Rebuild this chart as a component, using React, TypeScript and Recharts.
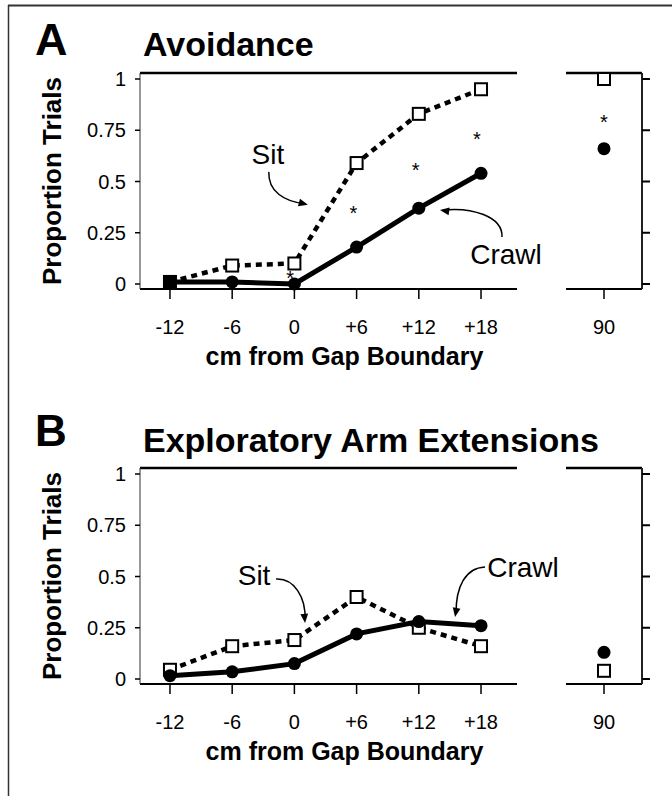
import React from 'react'
import { ComposedChart, Line, Scatter, XAxis, YAxis, ReferenceDot, Label } from 'recharts'

const font = '"Liberation Sans", Arial, Helvetica, sans-serif'

// cm from gap boundary
const offsets = [-12, -6, 0, 6, 12, 18]
const offsetLabels = ['-12', '-6', '0', '+6', '+12', '+18']
const farOffset = [90]
const yTicks = [0, 0.25, 0.5, 0.75, 1]

// A - avoidance
const avoidSit = [0.01, 0.09, 0.1, 0.59, 0.83, 0.95]
const avoidCrawl = [0.01, 0.01, 0, 0.18, 0.37, 0.54]
const avoidFarSit = [1]
const avoidFarCrawl = [0.66]
const avoidStarX = [-0.4, 5.7, 11.7, 17.6]
const avoidStarY = [0.05, 0.37, 0.58, 0.73]
const avoidFarStarY = [0.81]

// B - exploratory arm extensions
const armSit = [0.045, 0.16, 0.19, 0.4, 0.25, 0.16]
const armCrawl = [0.016, 0.035, 0.075, 0.22, 0.28, 0.26]
const armFarSit = [0.04]
const armFarCrawl = [0.13]

const X_DOMAIN: [number, number] = [-14.89, 21.47]
const FAR_DOMAIN: [number, number] = [86, 94]
const Y_DOMAIN: [number, number] = [-0.0244, 1.0293]

// annotation labels: anchor in data units, arrow drawn in px relative to the label centre
const avoidNotes = [
  { text: 'Sit', x: -2.56, y: 0.63, path: 'M1,17 C0,36 16,47 38,49', tip: [40, 50], angle: 15 },
  { text: 'Crawl', x: 20.41, y: 0.146, path: 'M-4,-17 C-3,-38 -35,-47 -63,-44', tip: [-66, -44], angle: 188 },
]
const armNotes = [
  { text: 'Sit', x: -3.89, y: 0.507, path: 'M22,4 C40,3 52,22 51,45', tip: [51, 48], angle: 85 },
  { text: 'Crawl', x: 22.05, y: 0.546, path: 'M-38,0 C-58,1 -67,20 -67,46', tip: [-68, 50], angle: 100 },
]

const tickStyle = { fill: '#000', fontSize: 20 }

function Note({ cx, cy, note }: any) {
  if (cx == null || cy == null) return null
  const [tx, ty] = note.tip
  const a = (note.angle * Math.PI) / 180
  const len = 10
  const w = 0.4
  const p1 = [tx - len * Math.cos(a - w), ty - len * Math.sin(a - w)]
  const p2 = [tx - len * Math.cos(a + w), ty - len * Math.sin(a + w)]
  return (
    <g transform={`translate(${cx},${cy})`}>
      <text x={0} y={0} textAnchor='middle' dominantBaseline='central' fontSize={28} fill='#000'>
        {note.text}
      </text>
      <path d={note.path} fill='none' stroke='#000' strokeWidth={1.5} />
      <polygon points={`${tx},${ty} ${p1[0]},${p1[1]} ${p2[0]},${p2[1]}`} fill='#000' />
    </g>
  )
}

const renderStar = (p: any) => (
  <text x={p.cx} y={p.cy + 11.5} textAnchor='middle' fontSize={20} fill='#000'>
    *
  </text>
)

const renderSquare = (p: any) => {
  if (p.cx == null || p.cy == null) return <g key={`sq-${p.index}`} />
  const solid = Math.abs(p.payload.sit - p.payload.crawl) < 0.02
  return (
    <rect
      key={`sq-${p.index}`}
      x={p.cx - 6}
      y={p.cy - 6}
      width={12}
      height={12}
      fill={solid ? '#000' : '#fff'}
      stroke='#000'
      strokeWidth={2}
    />
  )
}

const renderCircle = (p: any) => {
  if (p.cx == null || p.cy == null) return <g key={`ci-${p.index}`} />
  return <circle key={`ci-${p.index}`} cx={p.cx} cy={p.cy} r={6.5} fill='#000' />
}

function Panel({ top, sit, crawl, farSit, farCrawl, starX, starY, farStarY, notes }: any) {
  const rows = offsets.map((x, i) => ({ x, sit: sit[i], crawl: crawl[i] }))
  const farRows = farOffset.map((x, i) => ({ x, sit: farSit[i], crawl: farCrawl[i] }))
  const stars = starX.map((x: number, i: number) => ({ x, y: starY[i] }))
  const farStars = farStarY.map((y: number) => ({ x: farOffset[0], y }))

  return (
    <>
      <div style={{ position: 'absolute', left: 0, top }}>
        <ComposedChart
          width={580}
          height={380}
          data={rows}
          margin={{ top: 72, right: 63, bottom: 11, left: 0 }}
          style={{ overflow: 'visible' }}
        >
          <XAxis
            xAxisId='top'
            orientation='top'
            dataKey='x'
            type='number'
            domain={X_DOMAIN}
            height={1}
            tick={false}
            tickLine={false}
            axisLine={{ stroke: '#000', strokeWidth: 2.5 }}
          />
          <XAxis
            dataKey='x'
            type='number'
            domain={X_DOMAIN}
            ticks={offsets}
            tickFormatter={(v: number) => offsetLabels[offsets.indexOf(v)]}
            height={80}
            tickSize={10}
            tickMargin={21}
            tick={tickStyle}
            axisLine={{ stroke: '#000', strokeWidth: 2 }}
            tickLine={{ stroke: '#000', strokeWidth: 1.5 }}
          >
            <Label
              content={(props: any) => {
                const vb = props.viewBox
                return (
                  <text
                    x={vb.x + vb.width / 2 + 16}
                    y={vb.y + 76}
                    textAnchor='middle'
                    fontSize={25}
                    fontWeight={700}
                    fill='#000'
                  >
                    cm from Gap Boundary
                  </text>
                )
              }}
            />
          </XAxis>
          <YAxis
            type='number'
            domain={Y_DOMAIN}
            ticks={yTicks}
            width={140}
            tickSize={5}
            tickMargin={9}
            tick={tickStyle}
            axisLine={{ stroke: '#333', strokeWidth: 1 }}
            tickLine={{ stroke: '#000', strokeWidth: 1.5 }}
          >
            <Label
              content={(props: any) => {
                const vb = props.viewBox
                const cx = vb.x + 52
                const cy = vb.y + vb.height / 2
                return (
                  <text
                    x={cx}
                    y={cy}
                    transform={`rotate(-90 ${cx} ${cy})`}
                    textAnchor='middle'
                    dominantBaseline='central'
                    fontSize={26}
                    fontWeight={700}
                    fill='#000'
                  >
                    Proportion Trials
                  </text>
                )
              }}
            />
          </YAxis>
          <Line
            dataKey='sit'
            stroke='#000'
            strokeWidth={4.5}
            strokeDasharray='6 5'
            dot={renderSquare}
            activeDot={false}
            isAnimationActive={false}
          />
          <Line
            dataKey='crawl'
            stroke='#000'
            strokeWidth={5}
            dot={renderCircle}
            activeDot={false}
            isAnimationActive={false}
          />
          {stars.length > 0 && (
            <Scatter data={stars} dataKey='y' shape={renderStar} isAnimationActive={false} />
          )}
          {notes.map((n: any) => (
            <ReferenceDot
              key={n.text}
              x={n.x}
              y={n.y}
              ifOverflow='visible'
              shape={(p: any) => <Note {...p} note={n} />}
            />
          ))}
        </ComposedChart>
      </div>
      <div style={{ position: 'absolute', left: 540, top }}>
        <ComposedChart
          width={132}
          height={380}
          data={farRows}
          margin={{ top: 72, right: 0, bottom: 11, left: 26 }}
          style={{ overflow: 'visible' }}
        >
          <XAxis
            xAxisId='top'
            orientation='top'
            dataKey='x'
            type='number'
            domain={FAR_DOMAIN}
            height={1}
            tick={false}
            tickLine={false}
            axisLine={{ stroke: '#000', strokeWidth: 2.5 }}
          />
          <XAxis
            dataKey='x'
            type='number'
            domain={FAR_DOMAIN}
            ticks={farOffset}
            height={80}
            tickSize={10}
            tickMargin={21}
            tick={tickStyle}
            axisLine={{ stroke: '#000', strokeWidth: 2 }}
            tickLine={{ stroke: '#000', strokeWidth: 1.5 }}
          />
          <YAxis
            orientation='right'
            type='number'
            domain={Y_DOMAIN}
            ticks={yTicks}
            width={30}
            tickSize={8}
            tickFormatter={() => ''}
            axisLine={{ stroke: '#222', strokeWidth: 2 }}
            tickLine={{ stroke: '#000', strokeWidth: 2 }}
          />
          <Line dataKey='sit' stroke='none' dot={renderSquare} activeDot={false} isAnimationActive={false} />
          <Line dataKey='crawl' stroke='none' dot={renderCircle} activeDot={false} isAnimationActive={false} />
          {farStars.length > 0 && (
            <Scatter data={farStars} dataKey='y' shape={renderStar} isAnimationActive={false} />
          )}
        </ComposedChart>
      </div>
    </>
  )
}

export default function App() {
  return (
    <div
      style={{
        position: 'absolute',
        left: 0,
        top: 0,
        width: 672,
        height: 796,
        background: '#fff',
        fontFamily: font,
        overflow: 'hidden',
      }}
    >
      <svg width={672} height={796} style={{ position: 'absolute', left: 0, top: 0 }}>
        <line x1={8} y1={5.5} x2={672} y2={5.5} stroke='#333' strokeWidth={2} />
        <line x1={8.5} y1={5} x2={8.5} y2={796} stroke='#333' strokeWidth={1.5} />
        <text x={35} y={55} fontSize={45} fontWeight={700} fill='#000'>
          A
        </text>
        <text x={143} y={56} fontSize={34} fontWeight={700} fill='#000'>
          Avoidance
        </text>
        <text x={35} y={446} fontSize={44} fontWeight={700} fill='#000'>
          B
        </text>
        <text x={143} y={452} fontSize={34} fontWeight={700} fill='#000'>
          Exploratory Arm Extensions
        </text>
      </svg>
      <Panel
        top={0}
        sit={avoidSit}
        crawl={avoidCrawl}
        farSit={avoidFarSit}
        farCrawl={avoidFarCrawl}
        starX={avoidStarX}
        starY={avoidStarY}
        farStarY={avoidFarStarY}
        notes={avoidNotes}
      />
      <Panel
        top={395}
        sit={armSit}
        crawl={armCrawl}
        farSit={armFarSit}
        farCrawl={armFarCrawl}
        starX={[]}
        starY={[]}
        farStarY={[]}
        notes={armNotes}
      />
    </div>
  )
}
